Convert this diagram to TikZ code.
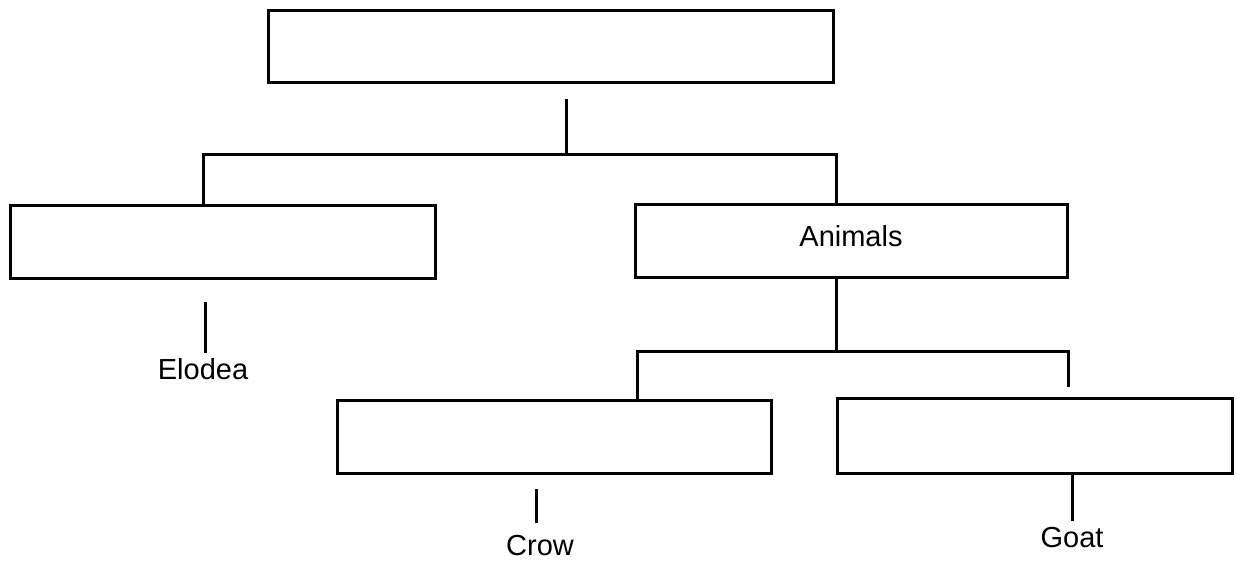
\documentclass[tikz,border=0pt]{standalone}
\usepackage{fontspec}
\setmainfont{Liberation Sans}
\begin{document}
\begin{tikzpicture}[x=1pt,y=-1pt,
  box/.style={draw, line width=3pt, rectangle, inner sep=0pt},
  conn/.style={line width=3pt},
  lbl/.style={font=\fontsize{29}{32}\selectfont, inner sep=0pt}]
\useasboundingbox (0,0) rectangle (1237,561);
% boxes
\node[box, minimum width=565pt, minimum height=72pt] (top) at (550.5,47) {};
\node[box, minimum width=425pt, minimum height=73pt] (plants) at (222.5,242.5) {};
\node[box, minimum width=432pt, minimum height=73pt] (animals) at (851,241.5) {};
\node[lbl] (animalstxt) at (851,236) {Animals};
\node[box, minimum width=434pt, minimum height=73pt] (crowbox) at (554,436.5) {};
\node[box, minimum width=395pt, minimum height=75pt] (goatbox) at (1034.5,435.5) {};
% labels
\node[lbl] (elodea) at (203,369) {Elodea};
\node[lbl] (crow) at (540,546) {Crow};
\node[lbl] (goat) at (1072,538) {Goat};
% first level
\coordinate (t1) at (566,99);
\coordinate (pL) at (203,155);
\coordinate (pR) at (836,155);
\draw[conn] (t1) -- (t1 |- pL);
\draw[conn] (plants.north -| pL) -- (pL) -- (pR) -- (animals.north -| pR);
% second level
\coordinate (a2) at (836,351);
\coordinate (cL) at (637,351);
\coordinate (cR) at (1068,351);
\coordinate (cRend) at (1068,387);
\draw[conn] (animals.south -| a2) -- (a2);
\draw[conn] (crowbox.north -| cL) -- (cL) -- (cR) -- (cRend);
% leaf connectors
\coordinate (e1) at (205,302);
\coordinate (e2) at (205,353);
\draw[conn] (e1) -- (e2);
\coordinate (c1) at (536,489);
\coordinate (c2) at (536,523);
\draw[conn] (c1) -- (c2);
\coordinate (g2) at (1072,521);
\draw[conn] (goatbox.south -| g2) -- (g2);
\end{tikzpicture}
\end{document}
